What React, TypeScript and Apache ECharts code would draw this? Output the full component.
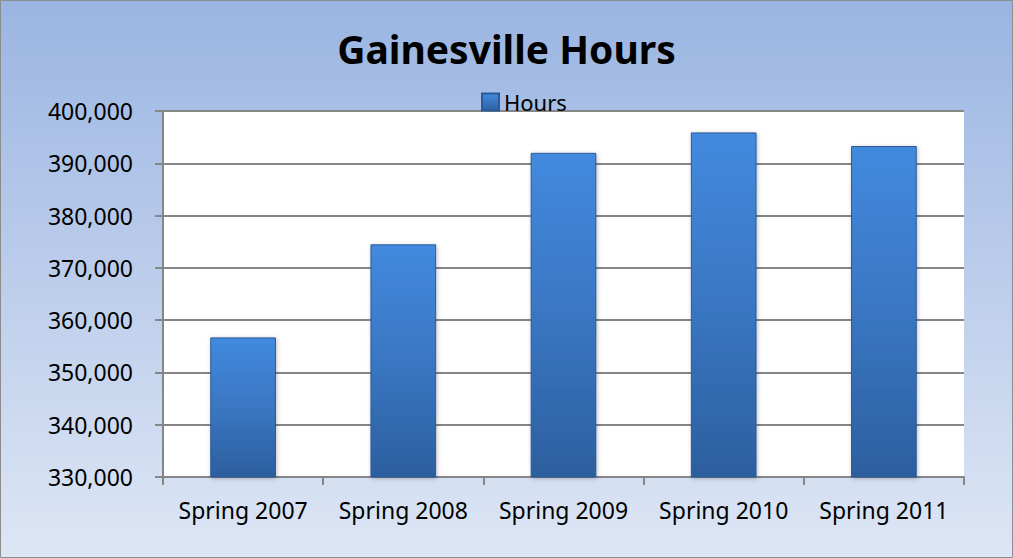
import React, { useEffect, useRef } from "react";
import * as echarts from "echarts";

const categories = ["Spring 2007", "Spring 2008", "Spring 2009", "Spring 2010", "Spring 2011"];
const hours = [356700, 374500, 392000, 395900, 393300];
const seriesName = "Hours";
const titleText = "Gainesville Hours";

export default function App() {
  const ref = useRef<HTMLDivElement>(null);
  useEffect(() => {
    document.body.style.margin = "0";
    const chart = echarts.init(ref.current!, null, { renderer: "svg" });
    const font = "'Noto Sans', sans-serif";
    chart.setOption({
      animation: false,
      backgroundColor: "transparent",
      title: {
        text: titleText,
        left: "center",
        top: 24,
        textStyle: { fontFamily: font, fontWeight: "bold", fontSize: 39, color: "#000" },
      },
      legend: {
        data: [seriesName],
        top: 86,
        left: 476,
        itemWidth: 17,
        itemHeight: 17,
        icon: "rect",
        textStyle: { fontFamily: font, fontSize: 22, color: "#000" },
      },
      grid: {
        left: 163,
        right: 49,
        top: 111,
        bottom: 81,
        show: true,
        backgroundColor: "#ffffff",
        borderWidth: 0,
      },
      xAxis: {
        type: "category",
        data: categories,
        axisLine: { lineStyle: { color: "#868686", width: 2 } },
        axisTick: { show: true, interval: 0, length: 8, alignWithLabel: false, lineStyle: { color: "#868686", width: 2 } },
        axisLabel: { interval: 0, fontFamily: font, fontSize: 23, color: "#000", margin: 21 },
      },
      yAxis: {
        type: "value",
        min: 330000,
        max: 400000,
        interval: 10000,
        axisLine: { show: true, lineStyle: { color: "#868686", width: 2 } },
        axisTick: { show: true, length: 8, lineStyle: { color: "#868686", width: 2 } },
        splitLine: { lineStyle: { color: "#868686", width: 2 } },
        axisLabel: {
          fontFamily: font,
          fontSize: 23,
          color: "#000",
          margin: 30,
          formatter: (v: number) => v.toLocaleString("en-US"),
        },
      },
      series: [
        {
          name: seriesName,
          type: "bar",
          data: hours,
          barWidth: "41%",
          itemStyle: {
            color: new echarts.graphic.LinearGradient(0, 0, 0, 1, [
              { offset: 0, color: "#428ade" },
              { offset: 0.5, color: "#3a76c2" },
              { offset: 1, color: "#2c5f9f" },
            ]),
            borderColor: "#2a5a98",
            borderWidth: 1,
            shadowColor: "rgba(0,0,0,0.25)",
            shadowBlur: 4,
            shadowOffsetX: 1,
            shadowOffsetY: 1,
          },
        },
      ],
      graphic: [
        {
          type: "rect",
          silent: true,
          shape: { x: 0.5, y: 0.5, width: 1012, height: 557 },
          style: { fill: "none", stroke: "#8c8c8c", lineWidth: 1 },
        },
      ],
    });
    return () => chart.dispose();
  }, []);
  return (
    <div
      ref={ref}
      style={{
        position: "absolute",
        left: 0,
        top: 0,
        width: 1013,
        height: 558,
        background: "linear-gradient(to bottom, #9ab5e2 0%, #b9cbea 45%, #dde6f5 100%)",
      }}
    />
  );
}
